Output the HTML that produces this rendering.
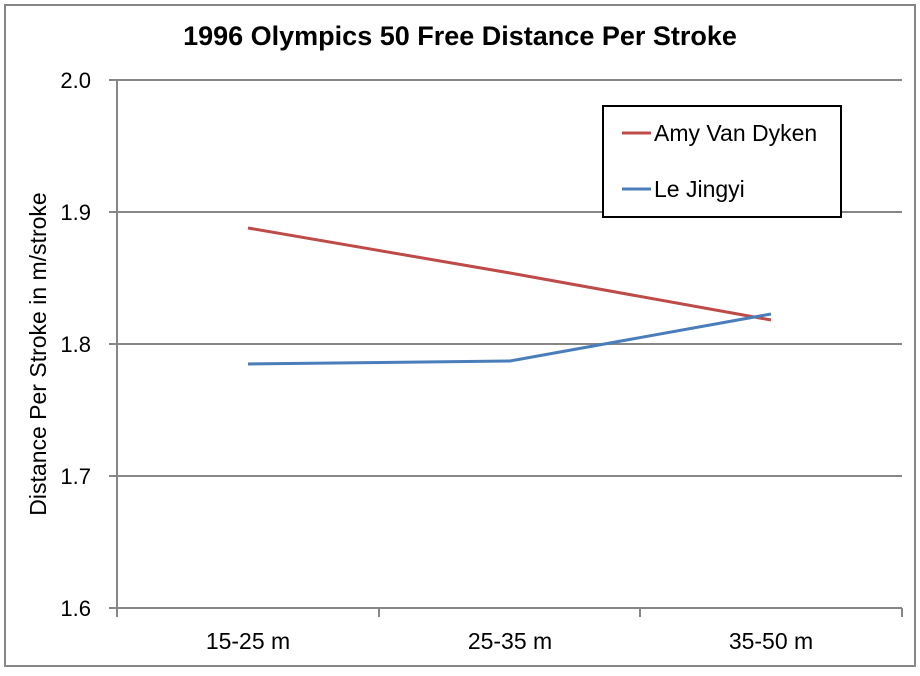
<!DOCTYPE html>
<html><head><style>body{margin:0;background:#fff}</style></head><body>
<svg width="920" height="671" xmlns="http://www.w3.org/2000/svg" font-family="Liberation Sans, sans-serif">
<rect x="5" y="5" width="910" height="661" fill="#fff" stroke="#868686" stroke-width="2"/>
<text x="460" y="45" text-anchor="middle" font-size="27" font-weight="bold">1996 Olympics 50 Free Distance Per Stroke</text>
<g stroke="#868686" stroke-width="2">
<line x1="109" y1="80" x2="902" y2="80"/>
<line x1="109" y1="212" x2="902" y2="212"/>
<line x1="109" y1="344" x2="902" y2="344"/>
<line x1="109" y1="476" x2="902" y2="476"/>
<line x1="109" y1="608" x2="902" y2="608"/>
<line x1="117" y1="80" x2="117" y2="617"/>
<line x1="379" y1="608" x2="379" y2="617"/>
<line x1="640" y1="608" x2="640" y2="617"/>
<line x1="902" y1="608" x2="902" y2="617"/>
</g>
<g font-size="22" text-anchor="end">
<text x="91" y="88">2.0</text><text x="91" y="220">1.9</text><text x="91" y="352">1.8</text><text x="91" y="484">1.7</text><text x="91" y="616">1.6</text>
</g>
<g font-size="23" text-anchor="middle">
<text x="248" y="649">15-25 m</text><text x="510" y="649">25-35 m</text><text x="771" y="649">35-50 m</text>
</g>
<text transform="translate(46,354) rotate(-90)" text-anchor="middle" font-size="23">Distance Per Stroke in m/stroke</text>
<polyline points="248,228 510,273 771,320" fill="none" stroke="#be4b48" stroke-width="3"/>
<polyline points="248,364 510,361 771,314" fill="none" stroke="#4a7ebb" stroke-width="3"/>
<rect x="603" y="106" width="238" height="111" fill="#fff" stroke="#000" stroke-width="2"/>
<line x1="622" y1="133" x2="651" y2="133" stroke="#be4b48" stroke-width="3"/>
<line x1="622" y1="189" x2="651" y2="189" stroke="#4a7ebb" stroke-width="3"/>
<text x="654" y="141" font-size="23">Amy Van Dyken</text>
<text x="654" y="197" font-size="23">Le Jingyi</text>
</svg>
</body></html>
